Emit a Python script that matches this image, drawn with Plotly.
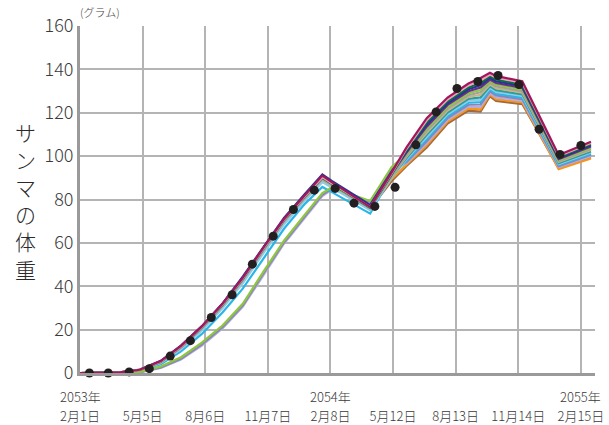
import plotly.graph_objects as go

# ---- data ----
grid_dates = ["2053-02-01", "2053-03-01", "2053-04-01", "2053-05-01", "2053-06-01",
              "2053-07-01", "2053-08-01", "2053-09-01", "2053-10-01", "2053-11-01",
              "2053-12-01", "2054-01-01", "2054-01-27", "2054-02-10", "2054-04-08",
              "2054-05-10", "2054-06-01", "2054-07-01", "2054-08-01", "2054-09-01",
              "2054-09-19", "2054-10-03", "2054-10-12", "2054-11-20", "2055-01-13",
              "2055-03-02"]

brown = [0, 0, 0.2, 1.2, 4.9, 11.6, 20.5, 30.9, 42.6, 56.6, 69.6, 80.4, 89, 86.4, 75.8,
         88.5, 95.5, 104, 115, 121, 120.5, 127.6, 125.5, 124, 94.5, 99.5]
orange = [0, 0, 0.2, 1.3, 5, 11.8, 20.7, 31.1, 42.9, 56.9, 69.9, 80.7, 89.3, 86.7, 76.1,
          89.5, 96.1, 105, 115.9, 121.9, 121.6, 128.4, 126.3, 124.8, 94, 98.9]
lavender = [0, 0, 0, 0.3, 2.3, 6.2, 12.6, 20.6, 30.6, 45.6, 59.6, 71.6, 81.6, 84.6, 78.8,
            93.5, 96.7, 105.9, 116.7, 122.8, 122.7, 129.1, 127.1, 125.5, 94.9, 100]
graypurple = [0, 0, 0, 0.4, 2.6, 6.6, 13.2, 21.2, 31.2, 46.2, 60.2, 72.2, 82.2, 85, 79,
              94, 97.3, 106.9, 117.6, 123.7, 123.8, 129.9, 128, 126.3, 95.4, 100.6]
cyan = [0, 0, 0.2, 1.2, 4, 10, 18, 28, 39, 53, 66.5, 78, 85.8, 83.4, 73.5,
        91, 97.9, 107.9, 118.4, 124.6, 124.9, 130.7, 128.8, 127, 95.9, 101.1]
lightblue = [0, 0, 0.2, 1.2, 4.6, 11, 19.6, 30, 41.5, 55.5, 68.5, 79.5, 88, 85.5, 75,
             90, 98.5, 108.8, 119.3, 125.5, 126, 131.5, 129.6, 127.8, 96.3, 101.7]
teal = [0, 0, 0.2, 1.3, 5.1, 11.9, 20.9, 31.3, 43.2, 57.2, 70.2, 81, 89.8, 87, 76.3,
        90.5, 99.1, 109.8, 120.1, 126.4, 127.1, 132.2, 130.4, 128.5, 96.8, 102.2]
khaki = [0, 0, 0.2, 1.3, 5, 11.7, 20.6, 31, 42.8, 56.8, 69.8, 80.6, 89.2, 86.6, 76,
         90.5, 99.8, 110.8, 121, 127.3, 128.3, 133, 131.3, 129.3, 97.3, 102.8]
gray = [0, 0, 0.2, 1.3, 5, 11.8, 20.8, 31.2, 43, 57, 70, 80.8, 89.5, 86.8, 76,
        91, 100.4, 111.7, 121.9, 128.1, 129.4, 133.8, 132.1, 130, 97.7, 103.3]
yellowgreen = [0, 0, 0, 0.5, 3, 7.3, 14, 22, 32, 47, 61, 73, 83, 85.5, 79.3,
               95, 101, 112.7, 122.7, 129, 130.5, 134.5, 132.9, 130.8, 98.2, 103.9]
purple = [0, 0, 0.3, 1.5, 5.4, 12.4, 21.4, 31.9, 43.8, 57.8, 70.8, 81.8, 90.6, 87.8, 76.8,
          92, 101.6, 113.6, 123.6, 129.9, 131.6, 135.3, 133.7, 131.5, 98.6, 104.4]
navy = [0, 0, 0.3, 1.6, 5.6, 12.6, 21.6, 32.2, 44.5, 58.3, 71.5, 82.6, 91.6, 88.6, 77.5,
        93, 102.2, 114.6, 124.4, 130.8, 132.7, 136.1, 134.5, 132.3, 99.1, 105]
darkgreen = [0, 0, 0.3, 1.4, 5.2, 12, 21, 31.5, 43.4, 57.4, 70.4, 81.3, 90, 87.2, 76.2,
             91.5, 102.8, 115.6, 125.3, 131.7, 133.8, 136.9, 135.4, 133, 99.6, 105.5]
pink = [0, 0, 0.3, 1.4, 5.3, 12.2, 21.2, 31.7, 43.6, 57.6, 70.6, 81.5, 90.3, 87.5, 76.5,
        92, 103.4, 116.5, 126.1, 132.6, 134.9, 137.6, 136.2, 133.8, 100, 106.1]
crimson = [0, 0, 0.3, 1.5, 5.5, 12.5, 21.5, 32, 44, 58, 71, 82, 91, 88, 76.5,
           92.5, 104, 117.5, 127, 133.5, 136, 138.4, 137, 134.5, 100.5, 106.6]

obs_dates = ["2053-02-15", "2053-03-15", "2053-04-15", "2053-05-15", "2053-06-15",
             "2053-07-15", "2053-08-15", "2053-09-15", "2053-10-15", "2053-11-15",
             "2053-12-15", "2054-01-15", "2054-02-15", "2054-03-15", "2054-04-15",
             "2054-05-15", "2054-06-15", "2054-07-15", "2054-08-15", "2054-09-15",
             "2054-10-15", "2054-11-15", "2054-12-15", "2055-01-15", "2055-02-15"]
obs_weight = [0, 0, 0.5, 2.0, 7.8, 14.9, 25.6, 36.1, 50.2, 63.1, 75.4, 84.3, 85.1, 78.3,
              76.8, 85.6, 105.2, 120.4, 131.2, 134.4, 137.2, 133.0, 112.4, 100.8, 104.9]

tick_dates = ["2053-02-01", "2053-05-05", "2053-08-06", "2053-11-07", "2054-02-08",
              "2054-05-12", "2054-08-13", "2054-11-14", "2055-02-15"]
tick_labels = ["2月1日", "5月5日", "8月6日", "11月7日", "2月8日", "5月12日",
               "8月13日", "11月14日", "2月15日"]
year_dates = ["2053-02-01", "2054-02-08", "2055-02-15"]
year_labels = ["2053年", "2054年", "2055年"]

# ---- figure ----
members = [
    (brown, "#a3693b"), (orange, "#f7941d"), (lavender, "#b5aedb"),
    (graypurple, "#8a84b8"), (cyan, "#29b5e8"), (lightblue, "#8ccbea"),
    (teal, "#2a9d9c"), (khaki, "#c9b37e"), (gray, "#a0a0a0"),
    (yellowgreen, "#8dc63f"), (purple, "#662d91"), (navy, "#2e3192"),
    (darkgreen, "#00743f"), (pink, "#f19ec2"), (crimson, "#a1185a"),
]

fig = go.Figure()
for vals, col in members:
    fig.add_trace(go.Scatter(x=grid_dates, y=vals, mode="lines",
                             line=dict(color=col, width=2.2), showlegend=False,
                             hoverinfo="skip"))

fig.add_trace(go.Scatter(x=obs_dates, y=obs_weight, mode="markers",
                         marker=dict(color="#231f20", size=9), showlegend=False,
                         cliponaxis=False, hoverinfo="skip"))

font_family = "Noto Sans CJK JP, Noto Sans, sans-serif"

L, R, T, B = 80, 14, 26, 52
W, H = 609, 425
pw, ph = W - L - R, H - T - B

annotations = [
    dict(text="サ<br>ン<br>マ<br>の<br>体<br>重",
         x=(25 - L) / pw, y=1 - (200 - T) / ph, xref="paper", yref="paper",
         xanchor="center", yanchor="middle", showarrow=False,
         font=dict(size=21, color="#2a2a2a", weight=300)),
    dict(text="(グラム)", x=(78 - L) / pw, y=1 - (12 - T) / ph,
         xref="paper", yref="paper", xanchor="left", yanchor="middle",
         showarrow=False, font=dict(size=11, color="#444", weight=300)),
]
for d, lab in zip(year_dates, year_labels):
    annotations.append(dict(text=lab, x=d, xref="x", y=1 - (396 - T) / ph,
                            yref="paper", xanchor="center", yanchor="middle",
                            showarrow=False, height=13, borderpad=0, borderwidth=0,
                            font=dict(size=13, color="#3a3a3a", weight=300)))

fig.update_layout(
    width=W, height=H,
    margin=dict(l=L, r=R, t=T, b=B),
    paper_bgcolor="white", plot_bgcolor="white",
    font=dict(family=font_family, color="#3a3a3a", weight=300),
    xaxis=dict(
        type="date", range=["2053-02-01", "2055-03-08"],
        tickvals=tick_dates, ticktext=tick_labels,
        showgrid=True, gridcolor="#b4b4b4", gridwidth=1.5,
        showline=True, linecolor="#9a9a9a", linewidth=3,
        ticks="", tickfont=dict(size=13, color="#3a3a3a", weight=300),
        ticklabelstandoff=29, zeroline=False, automargin=False,
    ),
    yaxis=dict(
        range=[0, 160], tickvals=[0, 20, 40, 60, 80, 100, 120, 140, 160],
        showgrid=True, gridcolor="#b4b4b4", gridwidth=1.5,
        showline=True, linecolor="#9a9a9a", linewidth=3,
        ticks="", tickfont=dict(size=18, color="#3a3a3a", weight=300),
        ticklabelstandoff=0, zeroline=False, automargin=False,
    ),
    annotations=annotations,
)

fig.write_html("out.html", config={"displayModeBar": False},
               post_script="document.body.style.margin='0';document.body.style.overflow='hidden';")
